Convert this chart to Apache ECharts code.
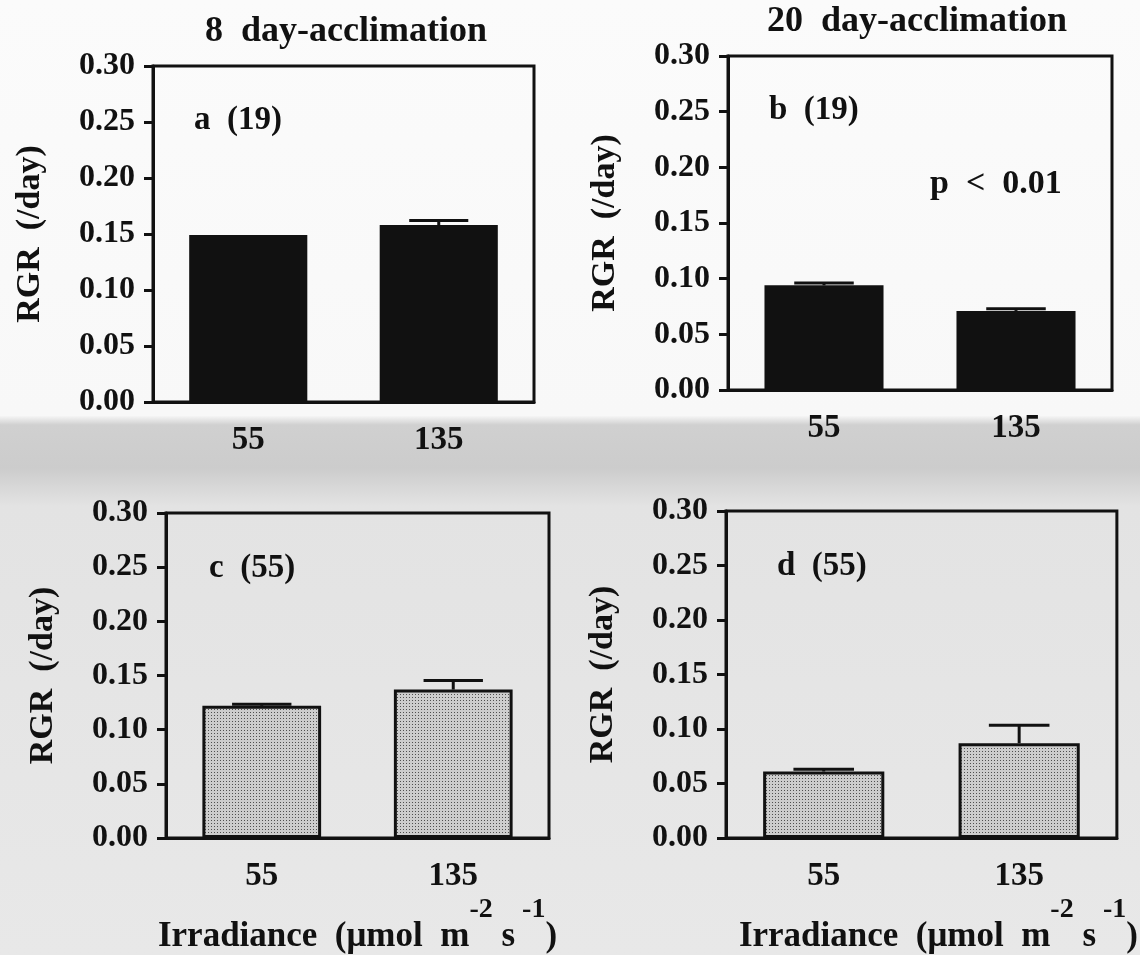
<!DOCTYPE html>
<html><head><meta charset="utf-8">
<script src="https://cdn.jsdelivr.net/npm/echarts@6/dist/echarts.min.js"></script>
<style>html,body{margin:0;padding:0;background:#fafafa}#c{width:1140px;height:955px}</style>
</head><body><div id="c"></div>
<script>
// ---- data ----
const categories = ['55', '135'];
const panelTitles = ['8  day-acclimation', '20  day-acclimation'];
const panelLabels = ['a  (19)', 'b  (19)', 'c  (55)', 'd  (55)'];
const pValueText = 'p  <  0.01';
const yAxisName = 'RGR  (/day)';
const valuesA = [0.149, 0.158];
const errA = [0.0, 0.004];
const valuesB = [0.094, 0.071];
const errB = [0.002, 0.002];
const valuesC = [0.122, 0.137];
const errC = [0.0015, 0.0085];
const valuesD = [0.061, 0.087];
const errD = [0.002, 0.0165];

// ---- styling / layout ----
const FONT = '"Liberation Serif", "Times New Roman", serif';
const INK = '#111';
const grids = [
  {left: 153, top: 66, width: 381, height: 336},
  {left: 728, top: 56, width: 384, height: 334},
  {left: 166, top: 513, width: 383, height: 332},
  {left: 726, top: 511, width: 391, height: 337}
];
const values = [valuesA, valuesB, valuesC, valuesD];
const errs = [errA, errB, errC, errD];

function makePattern() {
  const cv = document.createElement('canvas');
  cv.width = 3; cv.height = 3;
  const ctx = cv.getContext('2d');
  ctx.fillStyle = '#cdcdcd';
  ctx.fillRect(0, 0, 3, 3);
  ctx.fillStyle = '#505050';
  ctx.fillRect(1, 1, 1, 1);
  return cv;
}
const pattern = {image: makePattern(), repeat: 'repeat'};

const chart = echarts.init(document.getElementById('c'), null, {renderer: 'canvas'});

const option = {
  animation: false,
  backgroundColor: {
    type: 'linear', x: 0, y: 0, x2: 0, y2: 1,
    colorStops: [
      {offset: 0, color: '#fbfbfb'},
      {offset: 0.435, color: '#f8f8f8'},
      {offset: 0.445, color: '#d0d0d0'},
      {offset: 0.49, color: '#cccccc'},
      {offset: 0.53, color: '#e3e3e3'},
      {offset: 1, color: '#e8e8e8'}
    ]
  },
  grid: grids.map(g => Object.assign({show: true, borderColor: INK, borderWidth: 3, backgroundColor: 'transparent', containLabel: false}, g)),
  xAxis: grids.map((g, i) => ({
    gridIndex: i, type: 'category', data: categories,
    axisLine: {lineStyle: {color: INK, width: 3}},
    axisTick: {alignWithLabel: true, length: 10, lineStyle: {color: INK, width: 3}},
    axisLabel: {color: INK, fontFamily: FONT, fontWeight: 'bold', fontSize: 33, margin: 22},
    name: i >= 2 ? '{b|Irradiance  (μmol  m}{s|-2}{b| s}{s| -1}{b|)}' : '',
    nameLocation: 'middle', nameGap: 58,
    nameTextStyle: {
      padding: i === 3 ? [0, 0, 0, 34] : 0,
      rich: {
        b: {fontFamily: FONT, fontWeight: 'bold', fontSize: 35, color: INK, lineHeight: 58, verticalAlign: 'bottom'},
        s: {fontFamily: FONT, fontWeight: 'bold', fontSize: 28, color: INK, lineHeight: 58, verticalAlign: 'top'}
      }
    }
  })),
  yAxis: grids.map((g, i) => ({
    gridIndex: i, type: 'value', min: 0, max: 0.3, interval: 0.05,
    axisLine: {show: true, lineStyle: {color: INK, width: 3}},
    axisTick: {show: true, length: 9, lineStyle: {color: INK, width: 3}},
    splitLine: {show: false},
    axisLabel: {color: INK, fontFamily: FONT, fontWeight: 'bold', fontSize: 32, margin: 18,
      formatter: v => v.toFixed(2)},
    name: yAxisName, nameLocation: 'middle', nameGap: 106,
    nameTextStyle: {color: INK, fontFamily: FONT, fontWeight: 'bold', fontSize: 34}
  })),
  series: [],
  graphic: []
};

values.forEach((vals, i) => {
  option.series.push({
    type: 'bar', xAxisIndex: i, yAxisIndex: i, data: vals, barWidth: '62%',
    itemStyle: i < 2 ? {color: INK} : {color: pattern, borderColor: INK, borderWidth: 3},
    z: 2
  });
  option.series.push({
    type: 'custom', xAxisIndex: i, yAxisIndex: i, z: 3,
    data: categories.map((c, j) => [j, vals[j], errs[i][j]]),
    encode: {x: 0, y: 1},
    renderItem: (params, api) => {
      const xi = api.value(0), m = api.value(1), e = api.value(2);
      if (!(e > 0)) return null;
      const base = api.coord([xi, m]);
      const top = api.coord([xi, m + e]);
      const w = api.size([1, 0])[0] * 0.31;
      return {type: 'group', children: [
        {type: 'line', shape: {x1: base[0], y1: base[1], x2: top[0], y2: top[1]}, style: {stroke: INK, lineWidth: 3}},
        {type: 'line', shape: {x1: top[0] - w / 2, y1: top[1], x2: top[0] + w / 2, y2: top[1]}, style: {stroke: INK, lineWidth: 3}}
      ]};
    }
  });
});

// titles and in-panel annotations
const txt = (text, x, y, size, align) => ({
  type: 'text', x: x, y: y, z: 10,
  style: {text: text, fill: INK, font: 'bold ' + size + 'px ' + FONT, align: align || 'left', verticalAlign: 'middle'}
});
option.graphic.push(txt(panelTitles[0], 346, 32, 36, 'center'));
option.graphic.push(txt(panelTitles[1], 917, 22, 36, 'center'));
option.graphic.push(txt(panelLabels[0], 194, 120, 33));
option.graphic.push(txt(panelLabels[1], 769, 110, 33));
option.graphic.push(txt(pValueText, 930, 184, 34));
option.graphic.push(txt(panelLabels[2], 209, 568, 33));
option.graphic.push(txt(panelLabels[3], 777, 566, 33));

chart.setOption(option);
</script></body></html>
